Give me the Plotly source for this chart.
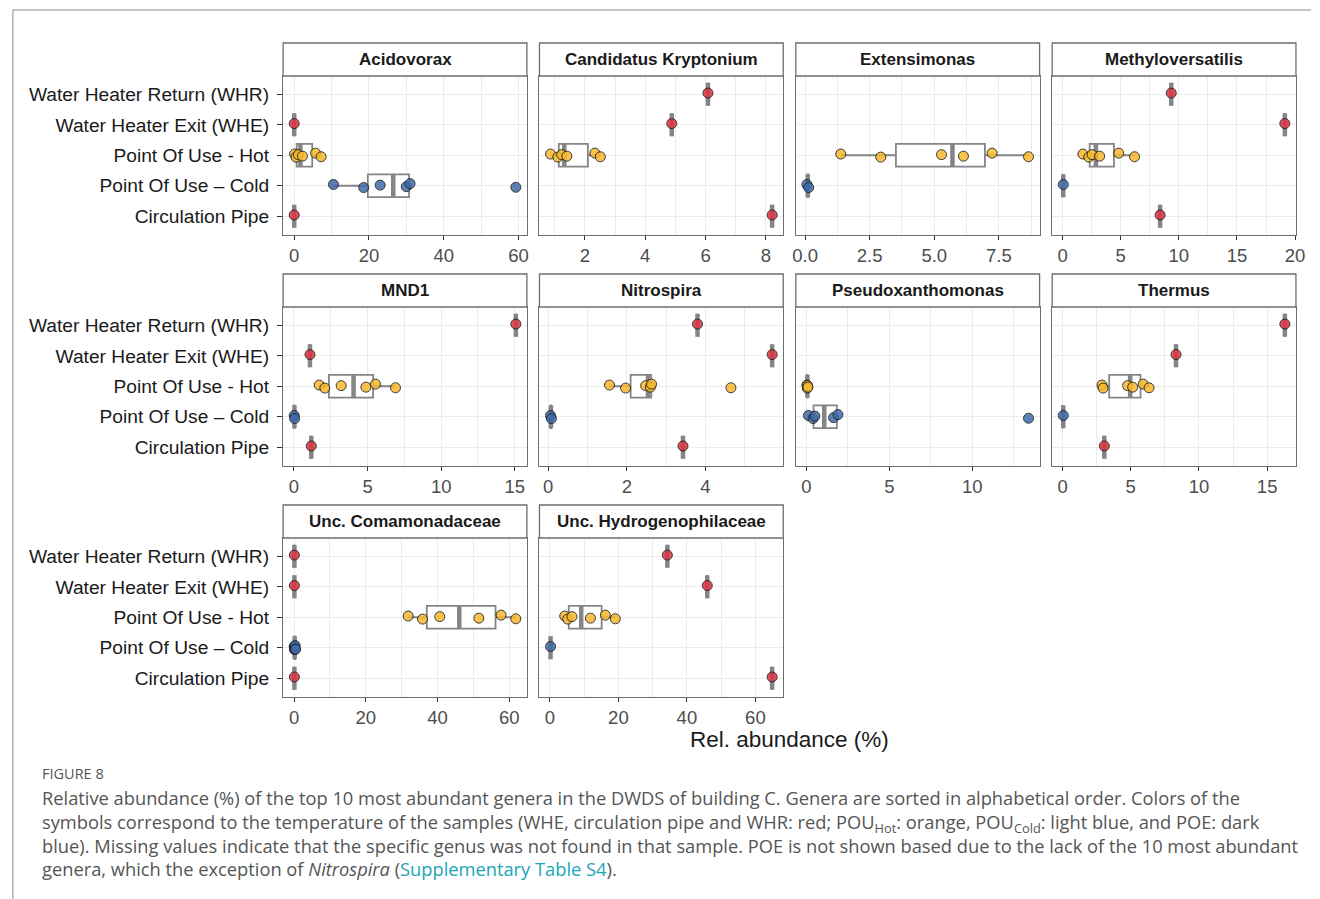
import numpy as np
import plotly.graph_objects as go

# ---------------- data ----------------
GROUPS = ["CP", "POU_COLD", "POU_HOT", "WHE", "WHR"]          # bottom -> top
GROUP_LABELS = ["Circulation Pipe", "Point Of Use – Cold", "Point Of Use - Hot",
                "Water Heater Exit (WHE)", "Water Heater Return (WHR)"]

GENERA = ["Acidovorax", "Candidatus Kryptonium", "Extensimonas", "Methyloversatilis",
          "MND1", "Nitrospira", "Pseudoxanthomonas", "Thermus",
          "Unc. Comamonadaceae", "Unc. Hydrogenophilaceae"]

ACIDOVORAX = {"WHE": [0.0], "POU_HOT": [0.1, 0.5, 1.1, 2.2, 5.7, 7.2],
              "POU_COLD": [10.5, 18.6, 23.0, 30.0, 31.0, 59.3], "CP": [0.0]}
KRYPTONIUM = {"WHR": [6.08], "WHE": [4.88], "POU_HOT": [0.86, 1.10, 1.23, 1.40, 2.33, 2.51],
              "CP": [8.21]}
EXTENSIMONAS = {"POU_HOT": [1.38, 2.93, 5.28, 6.13, 7.24, 8.65], "POU_COLD": [0.07, 0.14]}
METHYLOVERSATILIS = {"WHR": [9.35], "WHE": [19.12], "POU_HOT": [1.75, 2.26, 2.54, 3.19, 4.83, 6.19],
                     "POU_COLD": [0.06], "CP": [8.39]}
MND1 = {"WHR": [15.07], "WHE": [1.09], "POU_HOT": [1.72, 2.10, 3.21, 4.89, 5.54, 6.90],
        "POU_COLD": [0.02, 0.05], "CP": [1.18]}
NITROSPIRA = {"WHR": [3.80], "WHE": [5.70], "POU_HOT": [1.56, 1.97, 2.48, 2.60, 2.63, 4.65],
              "POU_COLD": [0.06, 0.08], "CP": [3.43]}
PSEUDOXANTHOMONAS = {"POU_HOT": [0.03, 0.05, 0.07, 0.09],
                     "POU_COLD": [0.12, 0.40, 0.51, 1.64, 1.90, 13.39]}
THERMUS = {"WHR": [16.30], "WHE": [8.32], "POU_HOT": [2.89, 2.97, 4.77, 5.14, 5.91, 6.34],
           "POU_COLD": [0.05], "CP": [3.06]}
COMAMONADACEAE = {"WHR": [0.1], "WHE": [0.1], "POU_HOT": [31.8, 35.8, 40.6, 51.5, 57.7, 61.8],
                  "POU_COLD": [0.05, 0.1, 0.15, 0.2, 0.3, 0.45], "CP": [0.1]}
HYDROGENOPHILACEAE = {"WHR": [34.3], "WHE": [45.95], "POU_HOT": [4.34, 5.2, 6.45, 11.85, 16.2, 19.1],
                      "POU_COLD": [0.2], "CP": [64.9]}

DATA = [ACIDOVORAX, KRYPTONIUM, EXTENSIMONAS, METHYLOVERSATILIS, MND1,
        NITROSPIRA, PSEUDOXANTHOMONAS, THERMUS, COMAMONADACEAE, HYDROGENOPHILACEAE]

X_TICKS = [["0", "20", "40", "60"], ["2", "4", "6", "8"], ["0.0", "2.5", "5.0", "7.5"],
           ["0", "5", "10", "15", "20"], ["0", "5", "10", "15"], ["0", "2", "4"],
           ["0", "5", "10"], ["0", "5", "10", "15"], ["0", "20", "40", "60"], ["0", "20", "40", "60"]]

X_TITLE = "Rel. abundance (%)"
CAPTION_TITLE = "FIGURE 8"
CAPTION_LINES = [
    "Relative abundance (%) of the top 10 most abundant genera in the DWDS of building C. Genera are sorted in alphabetical order. Colors of the",
    "symbols correspond to the temperature of the samples (WHE, circulation pipe and WHR: red; POU<sub>Hot</sub>: orange, POU<sub>Cold</sub>: light blue, and POE: dark",
    "blue). Missing values indicate that the specific genus was not found in that sample. POE is not shown based due to the lack of the 10 most abundant",
    "genera, which the exception of <i>Nitrospira</i> (<span style='color:#1aa6b7'>Supplementary Table S4</span>).",
]

# ---------------- style ----------------
RED, ORANGE, BLUE = "#dc3540", "#f6b92f", "#3f6aa8"
COLORS = {"CP": RED, "WHE": RED, "WHR": RED, "POU_HOT": ORANGE, "POU_COLD": BLUE}
JITTER = [0.04, -0.06, 0.02, -0.03, 0.07, -0.05, 0.0]
BOXGREY = "#858585"
BORDER = "#6e6e6e"
GRID = "#ebebeb"
FONT = "Liberation Sans, Arial, sans-serif"
CAP_FONT = "Open Sans, Roboto, sans-serif"

W, H = 1320, 899
COL_X0 = [282.7, 541.4, 800.1, 1058.8]
PW = 246
ROW_TOP = [43, 274, 505]
STRIP_H = 33
PH = 158.5


def px(x):
    return x / W


def py(y):
    return 1 - y / H


def box_stats(v):
    a = np.sort(np.asarray(v, float))
    q1, med, q3 = np.percentile(a, [25, 50, 75])
    iqr = q3 - q1
    lf = a[a >= q1 - 1.5 * iqr].min()
    uf = a[a <= q3 + 1.5 * iqr].max()
    return q1, med, q3, lf, uf


fig = go.Figure()
layout = {}
shapes = []
annotations = []

for i, (genus, d, ticks) in enumerate(zip(GENERA, DATA, X_TICKS)):
    r, c = divmod(i, 4)
    k = i + 1
    xa = "x" if k == 1 else f"x{k}"
    ya = "y" if k == 1 else f"y{k}"
    x0 = COL_X0[c]
    top = ROW_TOP[r]

    allv = np.concatenate([np.asarray(v, float) for v in d.values()])
    lo, hi = allv.min(), allv.max()
    span = hi - lo
    rng = [lo - 0.05 * span, hi + 0.05 * span]

    # boxes
    for g in GROUPS:
        if g not in d:
            continue
        pos = GROUPS.index(g)
        q1, med, q3, lf, uf = box_stats(d[g])
        fig.add_trace(go.Box(
            y=[pos], q1=[q1], median=[med], q3=[q3], lowerfence=[lf], upperfence=[uf],
            orientation="h", width=0.75, whiskerwidth=0, boxpoints=False,
            fillcolor="white", line=dict(color=BOXGREY, width=1.8),
            xaxis=xa, yaxis=ya, hoverinfo="skip", showlegend=False))
        fig.add_trace(go.Scatter(
            x=[med, med], y=[pos - 0.375, pos + 0.375], mode="lines",
            line=dict(color=BOXGREY, width=4.5), xaxis=xa, yaxis=ya,
            hoverinfo="skip", showlegend=False))
    # points
    for g in GROUPS:
        if g not in d:
            continue
        pos = GROUPS.index(g)
        vals = d[g]
        ys = [pos + JITTER[j % len(JITTER)] for j in range(len(vals))]
        fig.add_trace(go.Scatter(
            x=vals, y=ys, mode="markers",
            marker=dict(size=10, color=COLORS[g], opacity=0.85,
                        line=dict(color="#1a1a1a", width=1)),
            xaxis=xa, yaxis=ya, showlegend=False))

    tickvals = [float(t) for t in ticks]
    step = tickvals[1] - tickvals[0]
    layout["xaxis" if k == 1 else f"xaxis{k}"] = dict(
        domain=[px(x0), px(x0 + PW)], anchor=ya, range=rng,
        tickmode="array", tickvals=tickvals, ticktext=ticks,
        ticks="outside", ticklen=4, tickcolor="#333333", tickwidth=1,
        tickfont=dict(size=18.5, color="#4d4d4d", family=FONT),
        showgrid=True, gridcolor=GRID, gridwidth=1.2,
        minor=dict(tickmode="linear", tick0=0, dtick=step / 2, showgrid=True,
                   gridcolor=GRID, gridwidth=0.7),
        showline=True, linecolor=BORDER, linewidth=1.3, mirror=True, zeroline=False)
    layout["yaxis" if k == 1 else f"yaxis{k}"] = dict(
        domain=[py(top + STRIP_H + PH), py(top + STRIP_H)], anchor=xa,
        range=[-0.6, 4.6], tickmode="array", tickvals=list(range(5)),
        ticktext=GROUP_LABELS, showticklabels=(c == 0),
        ticks="outside" if c == 0 else "", ticklen=5, tickcolor="#333333",
        ticklabelstandoff=4,
        tickfont=dict(size=19.2, color="#1a1a1a", family=FONT),
        showgrid=True, gridcolor=GRID, gridwidth=1.2,
        showline=True, linecolor=BORDER, linewidth=1.3, mirror=True, zeroline=False)

    shapes.append(dict(type="rect", xref="paper", yref="paper",
                       x0=px(x0), x1=px(x0 + PW), y0=py(top + STRIP_H), y1=py(top),
                       fillcolor="white", line=dict(color=BORDER, width=1.3)))
    annotations.append(dict(text=f"<b>{genus}</b>", xref="paper", yref="paper",
                            x=px(x0 + PW / 2), y=py(top + STRIP_H / 2),
                            xanchor="center", yanchor="middle", showarrow=False,
                            font=dict(size=17, color="#1a1a1a", family=FONT)))

# frame
shapes.append(dict(type="line", xref="paper", yref="paper", x0=px(10), x1=1, y0=py(10), y1=py(10),
                   line=dict(color="#8c8c8c", width=1)))
shapes.append(dict(type="line", xref="paper", yref="paper", x0=px(10), x1=px(10), y0=py(10), y1=0,
                   line=dict(color="#8c8c8c", width=1)))

annotations.append(dict(text=X_TITLE, xref="paper", yref="paper",
                        x=px(793.5), y=py(739), xanchor="center", yanchor="middle",
                        showarrow=False, font=dict(size=22.5, color="#1a1a1a", family=FONT)))

annotations.append(dict(text=CAPTION_TITLE, xref="paper", yref="paper", x=px(37), y=py(773),
                        xanchor="left", yanchor="middle", showarrow=False,
                        font=dict(size=14.5, color="#555555", family=CAP_FONT)))
annotations.append(dict(text="<br>".join(CAPTION_LINES), xref="paper", yref="paper",
                        x=px(37), y=py(833), xanchor="left", yanchor="middle",
                        showarrow=False, align="left",
                        font=dict(size=18.3, color="#555555", family=CAP_FONT)))

fig.update_layout(**layout)
fig.update_layout(width=W, height=H, autosize=False, margin=dict(l=0, r=0, t=0, b=0),
                  paper_bgcolor="white", plot_bgcolor="white", showlegend=False,
                  shapes=shapes, annotations=annotations)

fig.write_html("out.html", include_plotlyjs=True, full_html=True,
               default_width=f"{W}px", default_height=f"{H}px",
               config={"displayModeBar": False},
               post_script="document.body.style.margin='0';document.body.style.overflow='hidden';")
